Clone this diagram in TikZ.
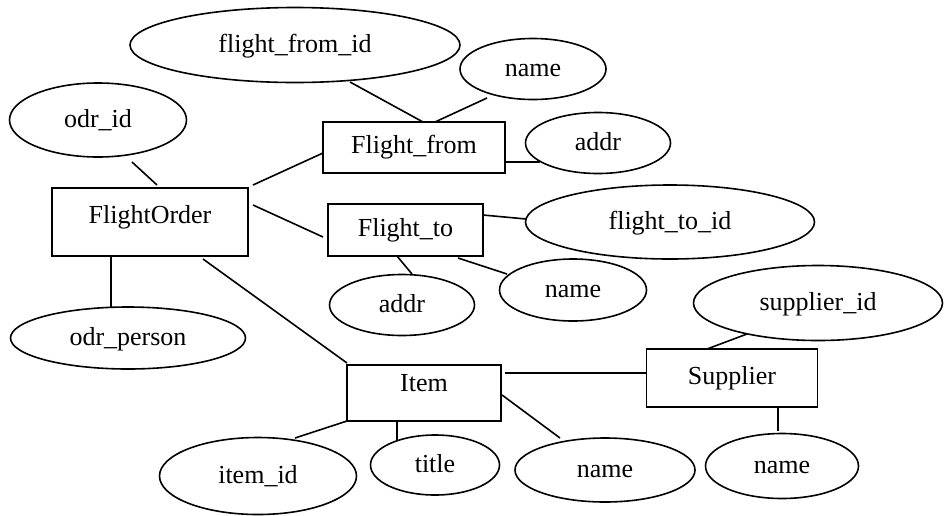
\documentclass[tikz,border=0pt]{standalone}
\usepackage{fontspec}
\setmainfont{Liberation Serif}
\usetikzlibrary{shapes.geometric}
\tikzset{
  base/.style={draw=black, line width=1.6pt, inner sep=0pt, text height=18pt, text depth=6pt,
    font=\fontsize{26}{30}\selectfont},
  ent/.style={base, rectangle, minimum width=#1},
  attr/.style={base, ellipse},
  conn/.style={line width=1.6pt},
}
\begin{document}
\begin{tikzpicture}[x=1pt,y=-1pt]
\useasboundingbox (0,0) rectangle (944,515);
% entities
\node[ent=196pt, minimum height=68pt, text depth=16pt] (fo) at (150,222) {FlightOrder};
\node[ent=182pt, minimum height=51pt] (ff) at (414,147.5) {Flight\_from};
\node[ent=155pt, minimum height=52pt] (ft) at (405.5,230) {Flight\_to};
\node[ent=154pt, minimum height=56pt, text depth=22pt] (it) at (424,393) {Item};
\node[ent=171pt, minimum height=58pt] (su) at (732,378) {Supplier};
% attributes
\node[attr, minimum width=330pt, minimum height=75pt, text depth=4pt] (ffid) at (295,45) {flight\_from\_id};
\node[attr, minimum width=146pt, minimum height=61pt, text depth=4pt] (nm1) at (533,69) {name};
\node[attr, minimum width=145pt, minimum height=61pt, text depth=4pt] (ad1) at (598,143) {addr};
\node[attr, minimum width=177pt, minimum height=74pt, text depth=4pt] (oid) at (98,120) {odr\_id};
\node[attr, minimum width=289pt, minimum height=74pt, text depth=4pt] (ftid) at (670,222) {flight\_to\_id};
\node[attr, minimum width=145pt, minimum height=61pt, text depth=4pt] (ad2) at (402,305) {addr};
\node[attr, minimum width=147pt, minimum height=62pt, text depth=4pt] (nm2) at (573,290) {name};
\node[attr, minimum width=235pt, minimum height=62pt, text depth=4pt] (op) at (128,338) {odr\_person};
\node[attr, minimum width=249pt, minimum height=75pt, text depth=4pt] (sid) at (818,303) {supplier\_id};
\node[attr, minimum width=197pt, minimum height=77pt, text depth=4pt] (iid) at (258,476) {item\_id};
\node[attr, minimum width=129pt, minimum height=60pt, text depth=4pt] (ti) at (435,465) {title};
\node[attr, minimum width=180pt, minimum height=64pt, text depth=4pt] (nm3) at (605,470) {name};
\node[attr, minimum width=153pt, minimum height=65pt, text depth=4pt] (nm4) at (782,466) {name};
% connectors
\draw[conn] ([shift={(34,42)}]oid.center) -- ([shift={(7,-37)}]fo.center);
\draw[conn] ([shift={(-39,34)}]fo.center) -- ([shift={(-17,-31)}]op.center);
\draw[conn] ([shift={(103,-37)}]fo.center) -- ([shift={(-91,5.5)}]ff.center);
\draw[conn] ([shift={(103,-17)}]fo.center) -- ([shift={(-82.5,7)}]ft.center);
\draw[conn] ([shift={(53,37)}]fo.center) -- ([shift={(-77,-30)}]it.center);
\draw[conn] ([shift={(55,37)}]ffid.center) -- ([shift={(9,-25.5)}]ff.center);
\draw[conn] ([shift={(21,-25.5)}]ff.center) -- ([shift={(-46,29)}]nm1.center);
\draw[conn] ([shift={(91,14.5)}]ff.center) -- ([shift={(-58,19)}]ad1.center);
\draw[conn] ([shift={(77.5,-15)}]ft.center) -- ([shift={(-144,-3)}]ftid.center);
\draw[conn] ([shift={(-8.5,26)}]ft.center) -- ([shift={(10,-31)}]ad2.center);
\draw[conn] ([shift={(52.5,28)}]ft.center) -- ([shift={(-66,-16)}]nm2.center);
\draw[conn] ([shift={(81,-20)}]it.center) -- ([shift={(-85,-5)}]su.center);
\draw[conn] ([shift={(-77,28)}]it.center) -- ([shift={(37,-38)}]iid.center);
\draw[conn] ([shift={(-27,28)}]it.center) -- ([shift={(-38,-24)}]ti.center);
\draw[conn] ([shift={(78,2)}]it.center) -- ([shift={(-45,-32)}]nm3.center);
\draw[conn] ([shift={(-25,-29)}]su.center) -- ([shift={(-71,31)}]sid.center);
\draw[conn] ([shift={(46,29)}]su.center) -- ([shift={(-4,-35)}]nm4.center);
\end{tikzpicture}
\end{document}
